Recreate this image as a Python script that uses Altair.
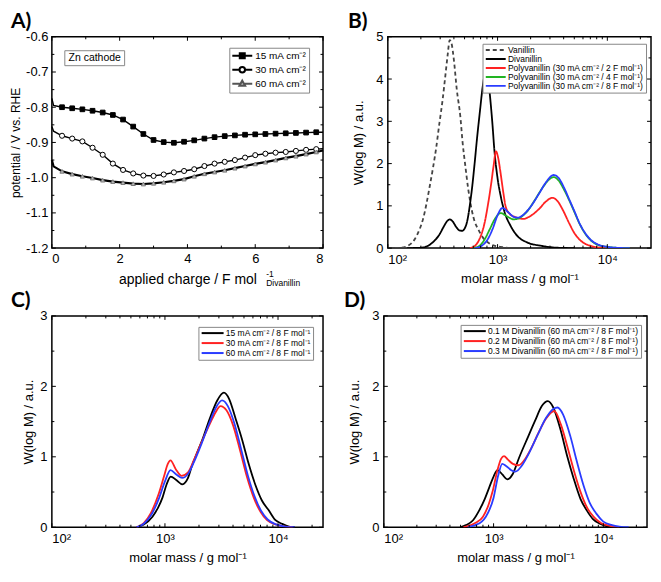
import altair as alt
import pandas as pd

FONT = "Liberation Sans"
TFONT = "Lato"

# ---------------- Panel A : potential vs applied charge ----------------
a_charge = [0.0, 0.05, 0.3, 0.6, 0.9, 1.2, 1.5, 1.8, 2.1, 2.4, 2.7, 3.0, 3.3, 3.6, 3.9,
            4.2, 4.5, 4.8, 5.1, 5.4, 5.7, 6.0, 6.3, 6.6, 6.9, 7.2, 7.5, 7.8, 8.0]
a_15 = [-0.775, -0.795, -0.800, -0.803, -0.806, -0.810, -0.815, -0.822, -0.835, -0.855,
        -0.876, -0.893, -0.899, -0.901, -0.898, -0.894, -0.889, -0.885, -0.882, -0.880,
        -0.878, -0.877, -0.876, -0.875, -0.874, -0.873, -0.872, -0.871, -0.871]
a_30 = [-0.855, -0.868, -0.881, -0.889, -0.897, -0.915, -0.935, -0.960, -0.978, -0.988,
        -0.994, -0.995, -0.991, -0.985, -0.981, -0.976, -0.967, -0.960, -0.955, -0.950,
        -0.943, -0.936, -0.932, -0.929, -0.927, -0.924, -0.921, -0.919, -0.918]
a_60 = [-0.950, -0.968, -0.982, -0.990, -0.996, -1.001, -1.007, -1.011, -1.014, -1.017,
        -1.018, -1.016, -1.013, -1.009, -1.004, -0.996, -0.989, -0.984, -0.979, -0.973,
        -0.967, -0.961, -0.956, -0.950, -0.944, -0.939, -0.933, -0.927, -0.923]
a_series = ["15 mA cm\u207b\u00b2", "30 mA cm\u207b\u00b2", "60 mA cm\u207b\u00b2"]

# ---------------- Panel B : molar mass distributions ----------------
b_van_M = [100, 130, 151, 177, 195, 209, 225, 240, 258, 275, 295, 315, 335, 352, 366, 380,
           400, 425, 458, 480, 507, 540, 581, 620, 665, 730, 813, 900, 1070, 1300]
b_van_W = [0, 0.01, 0.05, 0.22, 0.45, 0.68, 1.05, 1.44, 1.90, 2.35, 2.95, 3.49, 4.10, 4.60,
           4.92, 4.85, 4.45, 3.75, 3.11, 2.50, 1.97, 1.40, 0.91, 0.62, 0.45, 0.26, 0.14,
           0.07, 0.03, 0.0]
b_div_M = [150, 200, 230, 260, 295, 325, 350, 366, 390, 420, 450, 475, 500, 530, 562, 590,
           616, 650, 692, 730, 760, 789, 820, 860, 900, 933, 1000, 1072, 1150, 1312, 1500,
           1841, 2570, 3500, 5000]
b_div_W = [0, 0.01, 0.05, 0.15, 0.32, 0.52, 0.65, 0.68, 0.63, 0.50, 0.42, 0.41, 0.46, 0.65,
           1.06, 1.50, 1.97, 2.60, 3.26, 3.80, 4.08, 4.16, 4.00, 3.50, 2.90, 2.35, 1.65,
           1.21, 0.88, 0.53, 0.30, 0.14, 0.05, 0.01, 0]
b_2F_M = [560, 620, 680, 762, 820, 873, 920, 966, 1010, 1070, 1130, 1186, 1300, 1430, 1600,
          1722, 1900, 2150, 2415, 2750, 3162, 3500, 3900, 4470, 5000, 5500, 6300, 7200,
          8500, 10000]
b_2F_W = [0, 0.05, 0.2, 0.6, 1.05, 1.51, 1.95, 2.29, 2.15, 1.74, 1.30, 0.98, 0.80, 0.74,
          0.70, 0.69, 0.73, 0.82, 0.94, 1.10, 1.19, 1.12, 0.92, 0.60, 0.36, 0.22, 0.10,
          0.05, 0.01, 0]
b_4F_M = [600, 680, 760, 850, 950, 1072, 1200, 1405, 1600, 1900, 2200, 2600, 3000, 3236,
          3600, 4000, 4500, 5000, 5600, 6300, 7100, 8000, 10000, 13000, 16000]
b_4F_W = [0, 0.05, 0.2, 0.45, 0.70, 0.83, 0.76, 0.68, 0.72, 0.90, 1.15, 1.45, 1.64, 1.68,
          1.60, 1.40, 1.13, 0.86, 0.57, 0.34, 0.18, 0.09, 0.03, 0.005, 0]
b_8F_M = [620, 700, 800, 900, 1000, 1110, 1250, 1400, 1520, 1700, 2000, 2400, 2800, 3236,
          3600, 4000, 4500, 5000, 5600, 6300, 7100, 8000, 10000, 13000, 16000]
b_8F_W = [0, 0.04, 0.18, 0.45, 0.78, 0.95, 0.85, 0.74, 0.72, 0.78, 0.98, 1.30, 1.58, 1.73,
          1.66, 1.45, 1.15, 0.88, 0.58, 0.35, 0.19, 0.10, 0.03, 0.005, 0]
b_series = ["Vanillin", "Divanillin",
            "Polyvanillin (30 mA cm\u207b\u00b2 / 2 F mol\u207b\u00b9)",
            "Polyvanillin (30 mA cm\u207b\u00b2 / 4 F mol\u207b\u00b9)",
            "Polyvanillin (30 mA cm\u207b\u00b2 / 8 F mol\u207b\u00b9)"]

# ---------------- Panel C : current density ----------------
c_15_M = [560, 650, 776, 870, 951, 1030, 1125, 1260, 1426, 1600, 1740, 1950, 2140, 2500,
          2900, 3320, 3700, 4200, 4820, 5500, 6310, 7200, 8280, 9500, 10840, 12500, 14000]
c_15_W = [0, 0.04, 0.15, 0.28, 0.42, 0.60, 0.72, 0.67, 0.61, 0.70, 0.88, 1.08, 1.24, 1.55,
          1.80, 1.91, 1.82, 1.55, 1.24, 0.90, 0.60, 0.38, 0.24, 0.10, 0.05, 0.01, 0]
c_30_M = [560, 650, 750, 870, 980, 1060, 1120, 1250, 1400, 1600, 1800, 2100, 2500, 2800,
          3100, 3500, 4000, 4600, 5300, 6100, 7000, 8000, 9500, 11500, 13500]
c_30_W = [0, 0.06, 0.20, 0.45, 0.72, 0.90, 0.95, 0.82, 0.73, 0.78, 0.95, 1.20, 1.47, 1.63,
          1.72, 1.66, 1.45, 1.10, 0.72, 0.42, 0.22, 0.10, 0.04, 0.01, 0]
c_60_M = [560, 650, 760, 880, 1000, 1120, 1260, 1420, 1600, 1800, 2100, 2500, 2850, 3200,
          3600, 4100, 4700, 5400, 6200, 7100, 8100, 9600, 11500, 14000]
c_60_W = [0, 0.05, 0.18, 0.40, 0.65, 0.81, 0.75, 0.70, 0.76, 0.92, 1.18, 1.50, 1.71, 1.80,
          1.72, 1.48, 1.12, 0.74, 0.44, 0.23, 0.11, 0.04, 0.01, 0]
c_series = ["15 mA cm\u207b\u00b2 / 8 F mol\u207b\u00b9",
            "30 mA cm\u207b\u00b2 / 8 F mol\u207b\u00b9",
            "60 mA cm\u207b\u00b2 / 8 F mol\u207b\u00b9"]

# ---------------- Panel D : concentration ----------------
d_01_M = [495, 560, 650, 740, 830, 910, 1000, 1087, 1200, 1330, 1500, 1700, 2070, 2400,
          2750, 3120, 3500, 4080, 4700, 5370, 6200, 7060, 8000, 9300, 11000, 13000]
d_01_W = [0, 0.03, 0.10, 0.24, 0.40, 0.56, 0.72, 0.81, 0.75, 0.68, 0.76, 0.98, 1.29, 1.52,
          1.72, 1.79, 1.70, 1.38, 1.00, 0.69, 0.40, 0.24, 0.12, 0.05, 0.01, 0]
d_02_M = [530, 620, 700, 800, 900, 980, 1080, 1170, 1245, 1350, 1500, 1690, 1900, 2200,
          2600, 3000, 3570, 4100, 4690, 5400, 6170, 7100, 8130, 9500, 11500, 14000]
d_02_W = [0, 0.03, 0.07, 0.15, 0.32, 0.51, 0.80, 0.97, 1.01, 0.96, 0.90, 0.88, 0.95, 1.12,
          1.36, 1.54, 1.65, 1.46, 1.15, 0.80, 0.51, 0.28, 0.15, 0.06, 0.02, 0]
d_03_M = [580, 680, 780, 850, 1000, 1100, 1200, 1300, 1450, 1580, 1800, 2100, 2500, 3000,
          3500, 3830, 4300, 5010, 5700, 6580, 7500, 8670, 10000, 12000, 14000, 17000]
d_03_W = [0, 0.03, 0.08, 0.15, 0.42, 0.73, 0.90, 0.87, 0.81, 0.79, 0.87, 1.05, 1.30, 1.55,
          1.68, 1.70, 1.60, 1.29, 0.95, 0.60, 0.35, 0.19, 0.08, 0.03, 0.01, 0]
d_series = ["0.1 M Divanillin (60 mA cm\u207b\u00b2 / 8 F mol\u207b\u00b9)",
            "0.2 M Divanillin (60 mA cm\u207b\u00b2 / 8 F mol\u207b\u00b9)",
            "0.3 M Divanillin (60 mA cm\u207b\u00b2 / 8 F mol\u207b\u00b9)"]

# tick positions
a_x_major = [0, 2, 4, 6, 8]
a_x_minor = [1, 3, 5, 7]
a_y_major = [-0.6, -0.7, -0.8, -0.9, -1.0, -1.1, -1.2]
a_y_minor = [-0.65, -0.75, -0.85, -0.95, -1.05, -1.15]
m_major = [100, 1000, 10000]
m_minor = [200, 300, 400, 500, 600, 700, 800, 900, 2000, 3000, 4000, 5000, 6000, 7000,
           8000, 9000, 20000]
b_y_major = [0, 1, 2, 3, 4, 5]
b_y_minor = [0.5, 1.5, 2.5, 3.5, 4.5]
cd_y_major = [0, 1, 2, 3]
cd_y_minor = [0.5, 1.5, 2.5]

H = 212
WA = 272
WB = 264

RED, GREEN, BLUE = "#ff2222", "#22b422", "#2a3cff"


def long_df(pairs, names):
    rows = []
    for (ms, ws), n in zip(pairs, names):
        for k, (m, w) in enumerate(zip(ms, ws)):
            rows.append({"x": m, "y": w, "series": n, "i": k})
    return pd.DataFrame(rows)


def ticks(xvals, yvals, X, Y, W, L):
    """inward ticks on all four sides; X/Y are the panel's own encodings"""
    lay = []
    dx = pd.DataFrame({"x": xvals})
    dy = pd.DataFrame({"y": yvals})
    for y0, y1 in [(H, H - L), (0, L)]:
        lay.append(alt.Chart(dx).mark_rule(color="black", strokeWidth=1).encode(
            x=X, y=alt.value(y0), y2=alt.value(y1)))
    for x0, x1 in [(0, L), (W, W - L)]:
        lay.append(alt.Chart(dy).mark_rule(color="black", strokeWidth=1).encode(
            y=Y, x=alt.value(x0), x2=alt.value(x1)))
    return lay


def panel_label(t, dx):
    return alt.Chart(pd.DataFrame({"t": [t]})).mark_text(
        font=TFONT, fontSize=21, fontWeight="bold", color="black", align="left",
        baseline="alphabetic").encode(text="t:N", x=alt.value(dx), y=alt.value(-9))


log_labels = "datum.value == 100 ? '10\u00b2' : datum.value == 1000 ? '10\u00b3' : '10\u2074'"


def legend_box(x, y, fs, row_pad, sym, stype=None, soff=0, loff=3):
    kw = dict(orient="none", legendX=x, legendY=y, title=None, labelFontSize=fs,
              labelFont=FONT, labelColor="black", strokeColor="#888888",
              fillColor="white", padding=2, rowPadding=row_pad, symbolSize=sym,
              symbolStrokeWidth=2, labelLimit=400, symbolOffset=soff, labelOffset=loff)
    if stype:
        kw["symbolType"] = stype
    return alt.Legend(**kw)


# ---------------- Build panel A ----------------
dfA = pd.DataFrame({
    "x": a_charge * 3,
    "y": a_15 + a_30 + a_60,
    "series": [a_series[0]] * len(a_charge) + [a_series[1]] * len(a_charge) + [a_series[2]] * len(a_charge),
})
xsA = alt.Scale(domain=[0, 8], nice=False)
ysA = alt.Scale(domain=[-1.2, -0.6], nice=False, zero=False)
xA = alt.X("x:Q", scale=xsA, axis=alt.Axis(values=a_x_major, title="applied charge / F mol",
                                          labelPadding=4, titlePadding=7, titleFontSize=14))
yA = alt.Y("y:Q", scale=ysA, axis=alt.Axis(values=a_y_major, title="potential / V vs. RHE",
                                          labelExpr="replace(format(datum.value, '.1f'), '\u2212', '-')",
                                          labelPadding=4, titlePadding=3, titleFontSize=12))
baseA = alt.Chart(dfA)
linesA = baseA.transform_filter(alt.datum.series != a_series[2]).mark_line(
    color="black", strokeWidth=1.4).encode(x=xA, y=yA, detail="series:N")
line60 = baseA.transform_filter(alt.datum.series == a_series[2]).mark_line(
    color="black", strokeWidth=2.2).encode(x=xA, y=yA)
ptsA = []
styles = [
    dict(shape="square", fill="black", stroke="black", size=22),
    dict(shape="circle", fill="white", stroke="black", size=26),
    dict(shape="triangle-up", fill="#bbbbbb", stroke="#777777", size=18),
]
for s, st in zip(a_series, styles):
    ptsA.append(baseA.transform_filter(
        (alt.datum.series == s) & (alt.datum.x >= 0.25) & (alt.datum.x <= 7.85)
    ).mark_point(filled=True, opacity=1, strokeWidth=1, **st).encode(x=xA, y=yA))

# legend symbols: a short line with the marker in the middle
sq = "M-2,0H-0.5M0.5,0H2M-0.5,-0.5H0.5V0.5H-0.5Z"
ci = "M-2,0H-0.55M0.55,0H2M0.55,0A0.55,0.55,0,1,1,-0.55,0A0.55,0.55,0,1,1,0.55,0Z"
tr = "M-2,0H-0.5M0.5,0H2M0,-0.6L0.58,0.44L-0.58,0.44Z"
legA = legend_box(178, 11, 10, 0, 100, None, 5, 7)
legA_layer = alt.Chart(pd.DataFrame({"series": a_series})).transform_filter("false").mark_point(
    filled=True).encode(
    shape=alt.Shape("series:N", scale=alt.Scale(domain=a_series, range=[sq, ci, tr]), legend=legA),
    fill=alt.Fill("series:N", scale=alt.Scale(domain=a_series, range=["black", "white", "#bbbbbb"]), legend=legA),
    stroke=alt.Stroke("series:N", scale=alt.Scale(domain=a_series, range=["black", "black", "#555555"]), legend=legA),
)
znbox = alt.Chart(pd.DataFrame({"t": ["Zn cathode"]})).mark_rect(
    fill="white", stroke="#888888", strokeWidth=1).encode(
    x=alt.value(13), x2=alt.value(73), y=alt.value(14), y2=alt.value(29))
zntext = alt.Chart(pd.DataFrame({"t": ["Zn cathode"]})).mark_text(
    font=FONT, fontSize=10.5, color="black").encode(text="t:N", x=alt.value(43), y=alt.value(21.5))
supA = alt.Chart(pd.DataFrame({"t": ["-1"]})).mark_text(
    font=FONT, fontSize=8.5, color="black", align="left").encode(text="t:N", x=alt.value(215), y=alt.value(H + 26))
subA = alt.Chart(pd.DataFrame({"t": ["Divanillin"]})).mark_text(
    font=FONT, fontSize=8.5, color="black", align="left").encode(text="t:N", x=alt.value(215), y=alt.value(H + 35))

panelA = alt.layer(linesA, line60, *ptsA, *ticks(a_x_major, a_y_major, xA, yA, WA, 4),
                   *ticks(a_x_minor, a_y_minor, xA, yA, WA, 2.5),
                   znbox, zntext, legA_layer, supA, subA, panel_label("A)", -41)).properties(
    width=WA, height=H)

# ---------------- Build panel B/C/D ----------------
xsM = alt.Scale(type="log", domain=[100, 25000], nice=False)
xM = alt.X("x:Q", scale=xsM, axis=alt.Axis(values=m_major, labelExpr=log_labels,
                                          title="molar mass / g mol\u207b\u00b9",
                                          labelPadding=5, titlePadding=6))


def mass_panel(pairs, names, colors, dashes, ymax, ymajor, yminor, leg, lab, W, tpad):
    df = long_df(pairs, names)
    ys = alt.Scale(domain=[0, ymax], nice=False)
    y = alt.Y("y:Q", scale=ys, axis=alt.Axis(values=ymajor, title="W(log M) / a.u.",
                                            labelPadding=5, titlePadding=tpad))
    enc = dict(x=xM, y=y,
               color=alt.Color("series:N", scale=alt.Scale(domain=names, range=colors), legend=leg, sort=names),
               order="i:Q")
    if dashes is not None:
        enc["strokeDash"] = alt.StrokeDash("series:N", scale=alt.Scale(domain=names, range=dashes), legend=leg)
    lines = alt.Chart(df).mark_line(strokeWidth=1.8, interpolate="monotone", clip=True).encode(**enc)
    return alt.layer(lines, *ticks(m_major, ymajor, xM, y, W, 4),
                     *ticks(m_minor, yminor, xM, y, W, 2.5), lab).properties(
        width=W, height=H)


line_b = "M-3.33,0H3.33"
line_cd = "M-3.67,0H3.67"
panelB = mass_panel([(b_van_M, b_van_W), (b_div_M, b_div_W), (b_2F_M, b_2F_W), (b_4F_M, b_4F_W), (b_8F_M, b_8F_W)],
                    b_series, ["#444444", "black", RED, GREEN, BLUE],
                    [[4, 3], [1, 0], [1, 0], [1, 0], [1, 0]], 5, b_y_major, b_y_minor,
                    legend_box(95, 7, 8.5, -1, 36, line_b, 7, 8), panel_label("B)", -40), WB, 10)
panelC = mass_panel([(c_15_M, c_15_W), (c_30_M, c_30_W), (c_60_M, c_60_W)], c_series,
                    ["black", RED, BLUE], None, 3, cd_y_major, cd_y_minor,
                    legend_box(147, 11, 8.5, 1, 36, line_cd, 8, 9), panel_label("C)", -41), WA, 4)
panelD = mass_panel([(d_01_M, d_01_W), (d_02_M, d_02_W), (d_03_M, d_03_W)], d_series,
                    ["black", RED, BLUE], None, 3, cd_y_major, cd_y_minor,
                    legend_box(77, 9, 8.5, 1, 36, line_cd, 8, 9), panel_label("D)", -40), WB, 10)

IND = dict(color="independent", strokeDash="independent", shape="independent",
           fill="independent", stroke="independent")

row1 = alt.hconcat(panelA, panelB, spacing=18).resolve_scale(**IND).resolve_legend(**IND)
row2 = alt.hconcat(panelC, panelD, spacing=18).resolve_scale(**IND).resolve_legend(**IND)

chart = alt.vconcat(row1, row2, spacing=0).resolve_scale(**IND).resolve_legend(**IND).properties(
    padding={"left": 0, "top": 1, "right": 0, "bottom": 0}
).configure_view(
    stroke="black", strokeWidth=1.5
).configure_axis(
    labelFont=FONT, titleFont=FONT, labelFontSize=13, titleFontSize=13, titleFontWeight="normal",
    labelColor="black", titleColor="black", domain=False, ticks=False, grid=False
).configure_legend(symbolOpacity=1)

chart.save("out.html", embed_options={"renderer": "svg", "actions": False})
